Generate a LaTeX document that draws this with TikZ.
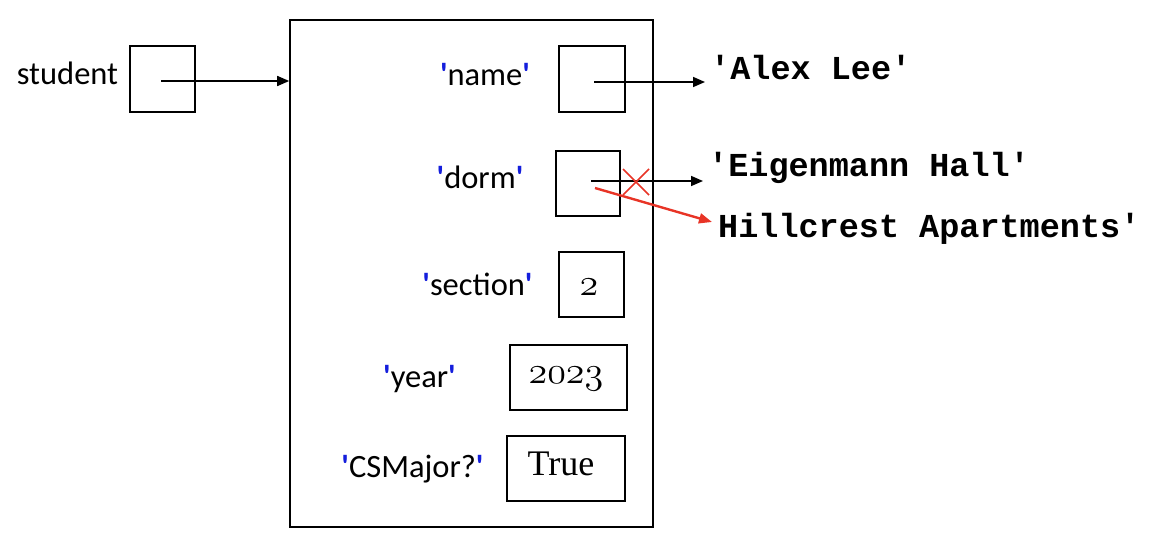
\documentclass[tikz,border=0pt]{standalone}
\usepackage{graphicx}
\usepackage{fontspec}
\newfontfamily\lab{Carlito}
\newfontfamily\mono{Liberation Mono}
\newfontfamily\serifv{Liberation Serif}
\usetikzlibrary{arrows.meta}
\definecolor{qblue}{RGB}{20,30,220}
\definecolor{xred}{RGB}{232,52,38}
\newcommand{\osn}[1]{\scalebox{1.53}{\fontsize{24.88}{30}\usefont{OML}{cmm}{m}{it}#1}}
\newcommand{\qk}[1]{\textcolor{qblue}{\bfseries'}#1\textcolor{qblue}{\bfseries'}}
\begin{document}
\begin{tikzpicture}[x=1pt,y=-1pt,
  cell/.style={draw,line width=1.6pt,inner sep=0pt},
  keylab/.style={anchor=base,inner sep=0pt,font=\lab\fontsize{32.5}{39}\selectfont},
  strval/.style={anchor=base west,inner sep=0pt,font=\mono\bfseries\fontsize{33.5}{40}\selectfont},
  numval/.style={inner sep=0pt},
  arr/.style={line width=1.6pt,-{Triangle[length=12pt,width=10pt]}},
  redarr/.style={xred,line width=2.4pt,-{Triangle[length=13pt,width=10pt]}}]
\useasboundingbox (0,0) rectangle (1168,546);

% variable
\node[keylab] (stlab) at (67.5,84) {student};
\node[cell,minimum width=65pt,minimum height=66pt] (sbox) at (162.5,79) {};

% dictionary
\node[cell,minimum width=363pt,minimum height=507pt] (dict) at (471.5,273.5) {};

% keys
\node[keylab] (kname) at (485,85) {\qk{name}};
\node[keylab] (kdorm) at (480,188) {\qk{dorm}};
\node[keylab] (ksec) at (477.5,295) {\qk{section}};
\node[keylab] (kyear) at (419.5,387) {\qk{year}};
\node[keylab] (kcs) at (412.5,477) {\qk{CSMajor?}};

% value cells
\node[cell,minimum width=66pt,minimum height=66pt] (nbox) at (592,79) {};
\node[cell,minimum width=64pt,minimum height=65pt] (dbox) at (588,183.5) {};
\node[cell,minimum width=65pt,minimum height=65pt] (secbox) at (591.5,284.5) {};
\node[cell,minimum width=117pt,minimum height=65pt] (ybox) at (568.5,377.5) {};
\node[cell,minimum width=118pt,minimum height=65pt] (csbox) at (566,468.5) {};

\node[numval] (vsec) at (589,287) {\osn{2}};
\node[numval] (vyear) at (566,379) {\osn{2023}};
\node[numval,font=\serifv\fontsize{36}{42}\selectfont] (vcs) at (561,464) {True};

% string values
\node[strval] (alex) at (710,79) {'Alex Lee'};
\node[strval] (eig) at (708,176) {'Eigenmann Hall'};
\node[strval] (hill) at (718,237) {Hillcrest Apartments'};

% pointer coordinates
\coordinate (sstart) at (161,81);
\coordinate (nstart) at (594,82);
\coordinate (alexin) at (705,82);
\coordinate (dstart) at (591,181);
\coordinate (eigin) at (703,181);
\coordinate (rstart) at (595,188);
\coordinate (hillin) at (712,222);
\coordinate (cross) at (636,182);

% arrows
\draw[arr] (sstart) -- (dict.west |- sstart);
\draw[arr] (nstart) -- (alexin);
\draw[arr] (dstart) -- (eigin);
\draw[redarr] (rstart) -- (hillin);
\draw[xred,line width=1.6pt] ([shift={(-13,-13)}]cross) -- ([shift={(13,13)}]cross)
  ([shift={(13,-13)}]cross) -- ([shift={(-13,13)}]cross);
\end{tikzpicture}
\end{document}
